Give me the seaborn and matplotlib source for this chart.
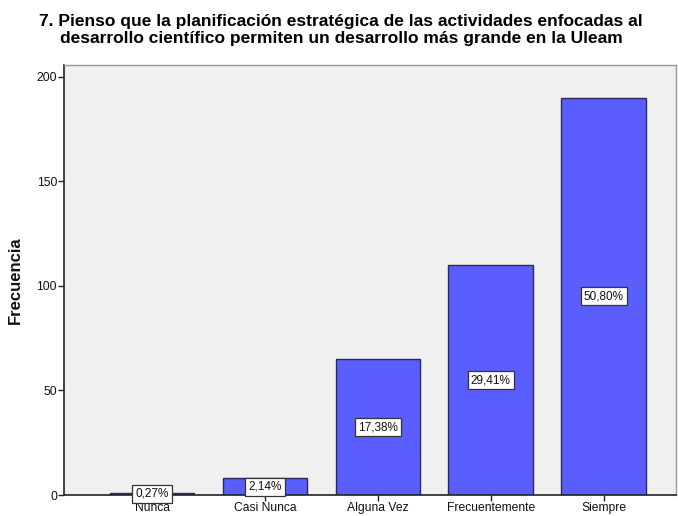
import matplotlib
matplotlib.use("Agg")
import matplotlib.pyplot as plt
import seaborn as sns
import pandas as pd

categories = ["Nunca", "Casi Nunca", "Alguna Vez", "Frecuentemente", "Siempre"]
frecuencias = [1, 8, 65, 110, 190]
porcentajes = ["0,27%", "2,14%", "17,38%", "29,41%", "50,80%"]
y_ticks = [0, 50, 100, 150, 200]
title = "7. Pienso que la planificación estratégica de las actividades enfocadas al\ndesarrollo científico permiten un desarrollo más grande en la Uleam"

sns.set_theme(style="white")
plt.rcParams["font.family"] = ["Liberation Sans", "DejaVu Sans"]

df = pd.DataFrame({"cat": categories, "freq": frecuencias})

fig = plt.figure(figsize=(6.78, 5.16), dpi=100)
ax = fig.add_axes([64/678, 1-495/516, (676-64)/678, (495-65)/516])
ax.set_facecolor("#F0F0F0")

sns.barplot(data=df, x="cat", y="freq", ax=ax, color="#5A5EFF", saturation=1,
            width=0.75, edgecolor="#2B2B55", linewidth=1.0)

for i, (v, p) in enumerate(zip(frecuencias, porcentajes)):
    ax.text(i, v/2, p, ha="center", va="center", fontsize=8.5, color="#111111",
            bbox=dict(boxstyle="square,pad=0.25", facecolor="white", edgecolor="#333333", linewidth=0.9))

ax.set_xlim(-0.78, 4.64)
ax.set_ylim(0, 205.7)
ax.set_yticks(y_ticks)
ax.set_yticklabels([str(t) for t in y_ticks], fontsize=8.7, color="#111111")
ax.set_xticks(range(len(categories)))
ax.set_xticklabels(categories, fontsize=8.7, color="#111111")
ax.tick_params(axis="both", which="major", direction="out", length=4, width=1, color="#222222", pad=1,
               bottom=True, left=True)
ax.set_xlabel("")
ax.set_ylabel("Frecuencia", fontsize=12, fontweight="bold", color="#111111")
ax.yaxis.set_label_coords(-0.068, 0.5)

for s in ["left", "bottom"]:
    ax.spines[s].set_color("#222222")
    ax.spines[s].set_linewidth(1.2)
for s in ["top", "right"]:
    ax.spines[s].set_color("#999999")
    ax.spines[s].set_linewidth(1.0)

fig.text(0.5 + 2/678, 1-30/516, title, ha="center", va="center", fontsize=12.5, fontweight="bold",
         linespacing=1.1, color="black")

fig.savefig("out.png", dpi=100, facecolor="white")
